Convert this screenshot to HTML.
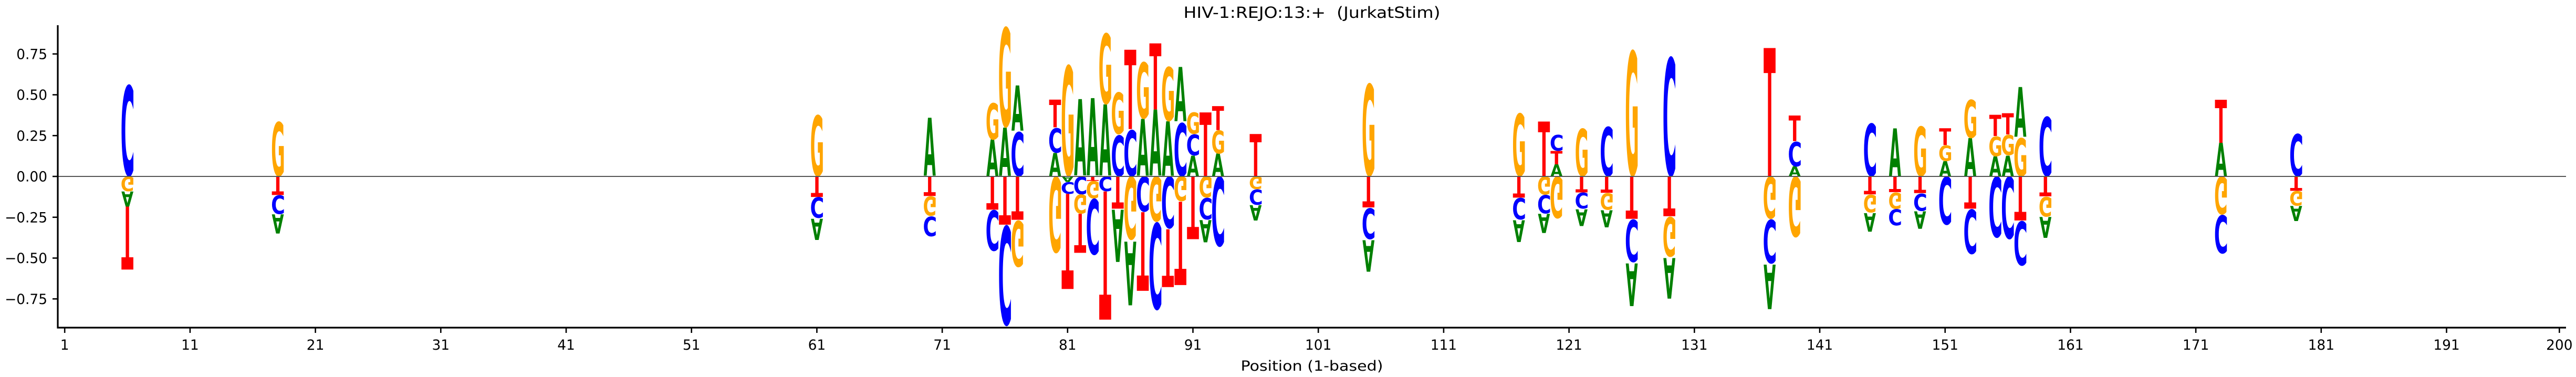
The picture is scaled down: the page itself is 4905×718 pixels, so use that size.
<!DOCTYPE html>
<html><head><meta charset="utf-8">
<style>
html,body{margin:0;padding:0;background:#fff;}
svg{display:block;}
text{font-family:"DejaVu Sans","Liberation Sans",sans-serif;}
</style></head>
<body>
<svg id="chart" width="4905" height="718" viewBox="0 0 4905 718" xmlns="http://www.w3.org/2000/svg">
  <text xml:space="preserve" x="2498" y="34" font-size="29" text-anchor="middle" textLength="489" lengthAdjust="spacingAndGlyphs" fill="#000">HIV-1:REJO:13:+  (JurkatStim)</text>
  <text x="2498" y="706" font-size="26.4" text-anchor="middle" textLength="271" lengthAdjust="spacingAndGlyphs" fill="#000">Position (1-based)</text>
  <g id="glyphs"></g>
  <g id="axes"></g>
</svg>
<script>
const positions = [6,18,61,70,75,76,77,80,81,82,83,84,85,86,87,88,89,90,91,92,93,96,105,117,119,120,122,124,126,129,137,139,145,147,149,151,153,155,156,157,159,173,179];
const valsA = [-0.093,-0.118,-0.131,0.36,0.226,0.30,0.28,0.145,-0.034,0.474,0.48,0.442,-0.324,-0.396,0.353,0.41,0.338,0.337,0.128,-0.137,0.14,-0.096,-0.196,-0.135,-0.118,0.074,-0.104,-0.106,-0.266,-0.252,-0.276,0.061,-0.114,0.296,-0.109,0.094,0.235,0.122,0.128,0.309,-0.13,0.205,-0.094];
const valsC = [0.57,-0.117,-0.130,-0.124,-0.254,-0.624,0.277,0.155,-0.073,-0.11,-0.35,-0.092,0.258,0.29,-0.219,-0.544,-0.324,0.334,0.133,-0.134,-0.437,-0.095,-0.195,-0.134,-0.115,0.10,-0.101,0.309,-0.265,0.744,-0.274,0.155,0.331,-0.103,-0.108,-0.301,-0.279,-0.381,-0.39,-0.276,0.373,-0.24,0.267];
const valsG = [-0.092,0.341,0.383,-0.123,0.229,0.626,-0.29,-0.476,0.694,-0.12,-0.108,0.443,0.261,-0.394,0.354,-0.282,0.340,-0.155,0.134,-0.132,0.145,-0.079,0.579,0.394,-0.113,-0.261,0.299,-0.104,0.786,-0.249,-0.263,-0.378,-0.112,-0.102,0.313,0.099,0.239,0.125,0.129,0.239,-0.125,-0.237,-0.092];
const valsT = [-0.391,-0.114,-0.127,-0.121,-0.206,-0.30,-0.27,0.172,-0.591,-0.243,-0.028,-0.797,-0.2,0.493,-0.489,0.411,-0.359,-0.518,-0.39,0.398,0.149,0.264,-0.193,-0.132,0.341,0.082,-0.099,-0.102,-0.263,-0.247,0.798,0.159,-0.111,-0.098,-0.104,0.103,-0.2,0.131,0.132,-0.273,-0.123,0.268,-0.089];
const yTicks = [-0.75,-0.5,-0.25,0,0.25,0.5,0.75];
const yTickLabels = ["\u22120.75","\u22120.50","\u22120.25","0.00","0.25","0.50","0.75"];
const xTicks = [1,11,21,31,41,51,61,71,81,91,101,111,121,131,141,151,161,171,181,191,200];

const NS = "http://www.w3.org/2000/svg";
const X0 = 123.2, DX = 23.87;
function xScale(p){ return X0 + (p-1)*DX; }
function yScale(v){ return 336 - v*311; }
const colors = {A:"#008000", C:"#0000ff", G:"#ffa500", T:"#ff0000"};

const cv = document.createElement("canvas").getContext("2d");
cv.font = "bold 100px 'DejaVu Sans'";
const metrics = {};
["A","C","G","T"].forEach(ch=>{
  const m = cv.measureText(ch);
  let l = m.actualBoundingBoxLeft, r = m.actualBoundingBoxRight, a = m.actualBoundingBoxAscent, d = m.actualBoundingBoxDescent;
  if(!(r>0)){ l=-3; r=72; a=73; d=(ch==="C"||ch==="G")?1.5:0; }
  metrics[ch] = {l:l, r:r, a:a, d:d};
});

const glyphs = document.getElementById("glyphs");
const W = 0.96*DX;
positions.forEach((p,i)=>{
  const entries = [["A",valsA[i]],["C",valsC[i]],["G",valsG[i]],["T",valsT[i]]];
  const pos = entries.filter(e=>e[1]>0).sort((a,b)=>a[1]-b[1]);
  const neg = entries.filter(e=>e[1]<0).sort((a,b)=>b[1]-a[1]);
  const xl = xScale(p) - W/2;
  let cum = 0;
  pos.forEach(([ch,v])=>{
    const yb = yScale(cum), yt = yScale(cum+v);
    drawGlyph(ch, xl, yt, yb, false, p);
    cum += v;
  });
  cum = 0;
  neg.forEach(([ch,v])=>{
    const yt = yScale(cum), yb = yScale(cum+v);
    drawGlyph(ch, xl, yt, yb, true, p);
    cum += v;
  });
});
function drawGlyph(ch, xl, yt, yb, flip, p){
  const m = metrics[ch];
  const H = yb - yt;
  if(H <= 0.2) return;
  const sx = W/(m.l+m.r), sy = H/(m.a+m.d);
  const t = document.createElementNS(NS,"text");
  t.textContent = ch;
  t.setAttribute("x",0); t.setAttribute("y",0);
  t.setAttribute("font-size",100);
  t.setAttribute("font-weight","bold");
  t.setAttribute("fill",colors[ch]);
  const tx = xl + m.l*sx;
  if(!flip){
    t.setAttribute("transform",`translate(${tx},${yb - m.d*sy}) scale(${sx},${sy})`);
  } else {
    t.setAttribute("transform",`translate(${tx},${yb - m.a*sy}) scale(${sx},${-sy})`);
  }
  
  
  glyphs.appendChild(t);
}

const axes = document.getElementById("axes");
function line(x1,y1,x2,y2,w,c,name){
  const l = document.createElementNS(NS,"line");
  l.setAttribute("x1",x1);l.setAttribute("y1",y1);l.setAttribute("x2",x2);l.setAttribute("y2",y2);
  l.setAttribute("stroke",c);l.setAttribute("stroke-width",w);
  
  
  axes.appendChild(l);
}
function label(x,y,s,anchor,name){
  const t = document.createElementNS(NS,"text");
  t.setAttribute("x",x);t.setAttribute("y",y);t.setAttribute("font-size",26.4);
  t.setAttribute("text-anchor",anchor);t.setAttribute("fill","#000");
  t.textContent = s;
  
  
  axes.appendChild(t);
}
const xLeft = 110, xRight = 4886, yTop = 48, yBot = 624;
line(xLeft, yScale(0), xRight, yScale(0), 2, "#555", "zero-baseline");
line(xLeft, yTop, xLeft, yBot+1.5, 3.2, "#000", "y-axis-line");
line(xLeft-1.5, yBot, xRight, yBot, 3.2, "#000", "x-axis-line");
yTicks.forEach((v,i)=>{
  const y = yScale(v);
  line(xLeft-10, y, xLeft, y, 2.6, "#000", "y-tick");
  label(xLeft-20, y+9.5, yTickLabels[i], "end", "y-tick-label");
});
xTicks.forEach(p=>{
  const x = xScale(p);
  line(x, yBot, x, yBot+10, 2.6, "#000", "x-tick");
  label(x, yBot+42, String(p), "middle", "x-tick-label");
});
</script>
</body></html>
